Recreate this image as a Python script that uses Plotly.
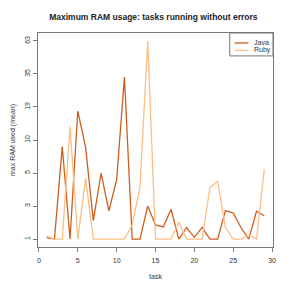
import numpy as np
import plotly.graph_objects as go

tasks = list(range(1, 30))
java = [1.05, 1.0, 8.7, 1.0, 17.5, 8.6, 1.85, 5.0, 2.56, 4.5, 33.0, 1.0, 1.0, 3.0,
        1.6, 1.5, 2.7, 1.0, 1.47, 1.06, 1.48, 1.0, 1.0, 2.58, 2.38, 1.47, 1.0, 2.52, 2.17]
ruby = [1.1, 1.0, 1.0, 13.0, 1.0, 4.6, 1.0, 1.0, 1.0, 1.0, 1.0, 1.6, 4.0, 63.0,
        1.0, 1.0, 1.0, 1.75, 1.0, 1.0, 1.0, 3.98, 4.4, 1.47, 1.0, 1.0, 1.14, 1.0, 5.45]
series_names = ["Java", "Ruby"]
series_colors = ["#CD5F1E", "#FDBE85"]
tick_values = [1, 3, 5, 10, 19, 35, 63]
x_ticks = [0, 5, 10, 15, 20, 25, 30]

tick_pos = list(range(len(tick_values)))


def scale(v):
    return np.interp(np.log(v), np.log(tick_values), tick_pos)


font = "Liberation Sans, Arial, sans-serif"
fig = go.Figure()
for name, vals, col in zip(series_names, [java, ruby], series_colors):
    fig.add_trace(go.Scatter(x=tasks, y=scale(vals), mode="lines", name=name,
                             line=dict(color=col, width=1.3), showlegend=False))

# compact legend box (R style); plot area is 239 x 215 px
PW, PH, L, T = 239.0, 215.0, 34.0, 33.0


def px(x):
    return (x - L) / PW


def py(y):
    return 1 - (y - T) / PH


shapes = [dict(type="rect", xref="paper", yref="paper", x0=px(229), x1=1.0, y0=py(56), y1=1.0,
               line=dict(color="#777", width=1), fillcolor="white")]
annotations = []
for i, (name, col) in enumerate(zip(series_names, series_colors)):
    yy = py(43 + 7.5 * i)
    shapes.append(dict(type="line", xref="paper", yref="paper", x0=px(234), x1=px(248), y0=yy, y1=yy,
                       line=dict(color=col, width=1.3)))
    annotations.append(dict(xref="paper", yref="paper", x=px(252), y=yy, text=name, showarrow=False,
                            xanchor="left", yanchor="middle", font=dict(size=7, color="#333")))

fig.update_layout(
    width=291, height=291,
    margin=dict(l=34, r=18, t=33, b=43),
    paper_bgcolor="white", plot_bgcolor="white",
    font=dict(family=font, size=7, color="#333"),
    title=dict(text="<b>Maximum RAM usage: tasks running without errors</b>",
               x=0.527, xanchor="center", y=0.942, yanchor="middle",
               font=dict(size=8.5, color="#222", family=font)),
    shapes=shapes, annotations=annotations,
)
fig.update_xaxes(range=[-0.12, 30.12], tickvals=x_ticks, ticks="outside", ticklen=4,
                 tickcolor="#777", showline=True, linecolor="#777", mirror=True,
                 showgrid=False, zeroline=False, ticklabelstandoff=3,
                 title=dict(text="task", font=dict(size=7, color="#333"), standoff=10))
fig.update_yaxes(range=[-0.24, 6.24], tickvals=tick_pos, ticktext=[str(v) for v in tick_values],
                 tickangle=-90, ticks="outside", ticklen=4,
                 tickcolor="#777", showline=True, linecolor="#777", mirror=True,
                 showgrid=False, zeroline=False,
                 title=dict(text="max RAM used (mean)", font=dict(size=7, color="#333"), standoff=7))

fig.write_html("out.html", config={"displayModeBar": False},
               post_script="document.body.style.margin='0';")
